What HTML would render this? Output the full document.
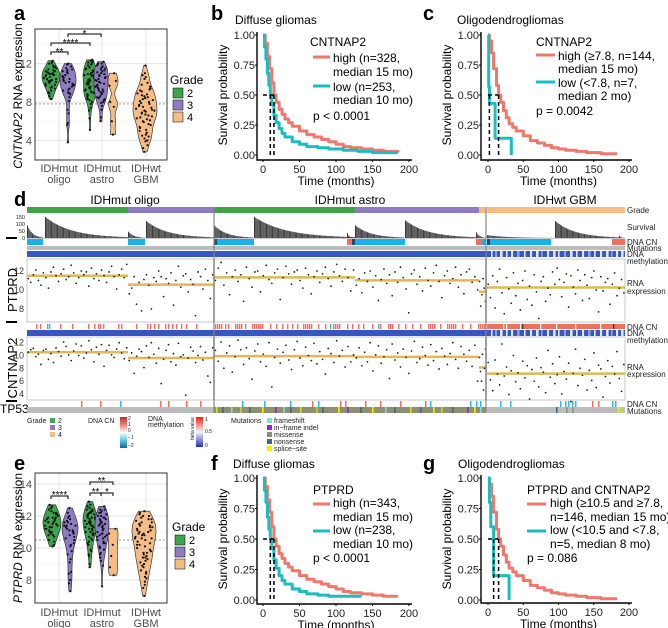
<!DOCTYPE html>
<html><head><meta charset="utf-8"><style>
body{margin:0;background:#fff;}
svg{display:block;font-family:"Liberation Sans",sans-serif;}
.pl{font-weight:bold;font-size:20px;}
.tk{font-size:11px;fill:#4d4d4d;}
.tkb{font-size:11px;fill:#222;}
.hl{font-size:8px;fill:#222;}
.lg{font-size:7px;fill:#222;}
</style></head><body>
<svg id="fig" width="668" height="628" viewBox="0 0 668 628">
<text class="pl" x="14" y="20">a</text>
<text class="pl" x="211" y="20">b</text>
<text class="pl" x="423" y="20">c</text>
<text class="pl" x="14" y="206">d</text>
<text class="pl" x="14" y="470">e</text>
<text class="pl" x="211" y="470">f</text>
<text class="pl" x="423" y="470">g</text>

<g id="pa">
<rect x="35" y="29" width="132" height="131" fill="#fff" stroke="none"/>
<g id="pa-grid"></g>
<g id="pa-marks"></g>
<rect x="35" y="29" width="132" height="131" fill="none" stroke="#333" stroke-width="1"/>
<text transform="translate(22,96) rotate(-90)" text-anchor="middle" font-size="12"><tspan font-style="italic">CNTNAP2</tspan> RNA expression</text>
<g class="tk" text-anchor="middle">
<text x="59" y="172">IDHmut</text><text x="59" y="183">oligo</text>
<text x="102" y="172">IDHmut</text><text x="102" y="183">astro</text>
<text x="146" y="172">IDHwt</text><text x="146" y="183">GBM</text></g>
<g stroke="#000" fill="none" stroke-width="1">
<path d="M51 55V52H68V55"/><path d="M51 46V43H90V46"/><path d="M68 37V34H101V37"/></g>
<g font-size="10" text-anchor="middle">
<text x="59.5" y="55">**</text><text x="70.5" y="46">****</text><text x="84.5" y="37">*</text></g>
<g>
<text x="170" y="84" font-size="12">Grade</text>
<rect x="173" y="88" width="10" height="10" fill="#3fa34d" stroke="#000" stroke-width="0.5"/><text x="187" y="97" font-size="11">2</text>
<rect x="173" y="100" width="10" height="10" fill="#8e7cc3" stroke="#000" stroke-width="0.5"/><text x="187" y="109" font-size="11">3</text>
<rect x="173" y="112" width="10" height="10" fill="#f5bd85" stroke="#000" stroke-width="0.5"/><text x="187" y="121" font-size="11">4</text></g>
</g>

<g id="pe">
<g id="pe-grid"></g>
<g id="pe-marks"></g>
<rect x="35" y="473" width="132" height="130" fill="none" stroke="#333" stroke-width="1"/>
<text transform="translate(22,538) rotate(-90)" text-anchor="middle" font-size="12"><tspan font-style="italic">PTPRD</tspan> RNA expression</text>
<g class="tk" text-anchor="middle">
<text x="59" y="616">IDHmut</text><text x="59" y="627">oligo</text>
<text x="102" y="616">IDHmut</text><text x="102" y="627">astro</text>
<text x="146" y="616">IDHwt</text><text x="146" y="627">GBM</text></g>
<g stroke="#000" fill="none" stroke-width="1">
<path d="M51 499V496H68V499"/><path d="M90 485V482H113V485"/><path d="M90 496V493H101V496"/><path d="M101 496V493H113V496"/></g>
<g font-size="10" text-anchor="middle">
<text x="59.5" y="498">****</text><text x="101.5" y="484">**</text><text x="95.5" y="495">**</text><text x="107" y="495">*</text></g>
<g>
<text x="172" y="531" font-size="12">Grade</text>
<rect x="175" y="535" width="10" height="10" fill="#3fa34d" stroke="#000" stroke-width="0.5"/><text x="189" y="544" font-size="11">2</text>
<rect x="175" y="547" width="10" height="10" fill="#8e7cc3" stroke="#000" stroke-width="0.5"/><text x="189" y="556" font-size="11">3</text>
<rect x="175" y="559" width="10" height="10" fill="#f5bd85" stroke="#000" stroke-width="0.5"/><text x="189" y="568" font-size="11">4</text></g>
</g>

<g id="pb">
<text x="235" y="24" font-size="12">Diffuse gliomas</text>
<text x="310" y="46" font-size="12">CNTNAP2</text>
<line x1="313" y1="57" x2="330" y2="57" stroke="#f0776b" stroke-width="3"/>
<line x1="313" y1="86" x2="330" y2="86" stroke="#1cbdbf" stroke-width="3"/>
<g font-size="12"><text x="333" y="62">high (n=328,</text><text x="333" y="76">median 15 mo)</text><text x="333" y="91">low (n=253,</text><text x="333" y="104">median 10 mo)</text><text x="313" y="120">p &lt; 0.0001</text></g>
</g>
<g id="pc">
<text x="457" y="24" font-size="12">Oligodendrogliomas</text>
<text x="536" y="46" font-size="12">CNTNAP2</text>
<line x1="536" y1="55" x2="555" y2="55" stroke="#f0776b" stroke-width="3"/>
<line x1="536" y1="82" x2="555" y2="82" stroke="#1cbdbf" stroke-width="3"/>
<g font-size="12"><text x="558" y="60">high (≥7.8, n=144,</text><text x="558" y="73">median 15 mo)</text><text x="558" y="87">low (&lt;7.8, n=7,</text><text x="558" y="100">median 2 mo)</text><text x="536" y="115">p = 0.0042</text></g>
</g>
<g id="pf">
<text x="233" y="468" font-size="12">Diffuse gliomas</text>
<text x="313" y="494" font-size="12">PTPRD</text>
<line x1="313" y1="504" x2="330" y2="504" stroke="#f0776b" stroke-width="3"/>
<line x1="313" y1="531" x2="330" y2="531" stroke="#1cbdbf" stroke-width="3"/>
<g font-size="12"><text x="333" y="507">high (n=343,</text><text x="333" y="521">median 15 mo)</text><text x="333" y="534">low (n=238,</text><text x="333" y="548">median 10 mo)</text><text x="313" y="562">p &lt; 0.0001</text></g>
</g>
<g id="pg">
<text x="458" y="468" font-size="12">Oligodendrogliomas</text>
<text x="527" y="494" font-size="12">PTPRD and CNTNAP2</text>
<line x1="527" y1="504" x2="546" y2="504" stroke="#f0776b" stroke-width="3"/>
<line x1="527" y1="531" x2="546" y2="531" stroke="#1cbdbf" stroke-width="3"/>
<g font-size="12"><text x="550" y="507">high (≥10.5 and ≥7.8,</text><text x="550" y="521">n=146, median 15 mo)</text><text x="550" y="534">low (&lt;10.5 and &lt;7.8,</text><text x="550" y="548">n=5, median 8 mo)</text><text x="527" y="562">p = 0.086</text></g>
</g>

<g id="pd">
<g font-size="12" text-anchor="middle">
<text x="125" y="204">IDHmut oligo</text><text x="350" y="204">IDHmut astro</text><text x="565" y="204">IDHwt GBM</text></g>
<g class="hl">
<text x="627" y="213">Grade</text><text x="627" y="230">Survival</text><text x="627" y="245">DNA CN</text><text x="627" y="251">Mutations</text>
<text x="627" y="257">DNA</text><text x="627" y="264">methylation</text><text x="627" y="286">RNA</text><text x="627" y="294">expression</text>
<text x="627" y="330">DNA CN</text><text x="627" y="336">DNA</text><text x="627" y="343">methylation</text><text x="627" y="370">RNA</text><text x="627" y="377">expression</text>
<text x="627" y="407">DNA CN</text><text x="627" y="414">Mutations</text></g>
<text transform="translate(17,290) rotate(-90)" text-anchor="middle" font-size="13">PTPRD</text>
<text transform="translate(17,368) rotate(-90)" text-anchor="middle" font-size="13">CNTNAP2</text>
<text x="0" y="413" font-size="12">TP53</text>
<g fill="#000"><rect x="6" y="237" width="11" height="2"/><rect x="6" y="321" width="11" height="2"/><rect x="6" y="400" width="11" height="2"/></g>
<g id="pd-rows"></g>
<g>
<text class="lg" x="27" y="423">Grade</text>
<rect x="50" y="418" width="5" height="5" fill="#3fa34d"/><text class="lg" x="58" y="423">2</text>
<rect x="50" y="425" width="5" height="5" fill="#8e7cc3"/><text class="lg" x="58" y="430">3</text>
<rect x="50" y="432" width="5" height="5" fill="#f5bd85"/><text class="lg" x="58" y="437">4</text>
<text class="lg" x="88" y="423">DNA CN</text>
<defs><linearGradient id="cn" x1="0" y1="0" x2="0" y2="1"><stop offset="0" stop-color="#a8352a"/><stop offset="0.25" stop-color="#f08070"/><stop offset="0.5" stop-color="#fff"/><stop offset="0.75" stop-color="#5ac8e8"/><stop offset="1" stop-color="#0a6a90"/></linearGradient>
<linearGradient id="me" x1="0" y1="0" x2="0" y2="1"><stop offset="0" stop-color="#f02010"/><stop offset="0.5" stop-color="#f4f0f8"/><stop offset="1" stop-color="#2030c0"/></linearGradient></defs>
<rect x="120" y="417" width="7" height="31" fill="url(#cn)"/>
<g font-size="5" fill="#222"><text x="128" y="420">2</text><text x="128" y="426">1</text><text x="128" y="432">0</text><text x="128" y="439">−1</text><text x="128" y="447">−2</text></g>
<text class="lg" x="148" y="421">DNA</text><text class="lg" x="148" y="427">methylation</text>
<text transform="translate(194,440) rotate(-90)" font-size="5" fill="#222">beta value</text>
<rect x="196" y="417" width="7" height="30" fill="url(#me)"/>
<g font-size="5" fill="#222"><text x="205" y="421">1</text><text x="205" y="433">0.5</text><text x="205" y="447">0</text></g>
<text class="lg" x="231" y="423">Mutations</text>
<rect x="267" y="418" width="5" height="5" fill="#7fe3d2"/><text class="lg" x="274" y="423">frameshift</text>
<rect x="267" y="425" width="5" height="5" fill="#9424d0"/><text class="lg" x="274" y="430">in−frame indel</text>
<rect x="267" y="432" width="5" height="5" fill="#8c8a78"/><text class="lg" x="274" y="437">missense</text>
<rect x="267" y="439" width="5" height="5" fill="#49677e"/><text class="lg" x="274" y="444">nonsense</text>
<rect x="267" y="446" width="5" height="5" fill="#f4f000"/><text class="lg" x="274" y="451">splice−site</text>
</g>
</g>
</svg>
<script>
const groupNames = ['oligoG2','oligoG3','astroG2','astroG3','astroG4','GBM'];
const groupGrade = [2,3,2,3,4,4];
const ptprdOligoG2=[11.2,10.8,11.6,12.1,11.0,10.5,11.8,11.3,10.2,11.9,12.4,11.5,10.9,11.7,12.2,11.1,11.4,12.6,11.8,10.7,11.3,12.0,11.6,11.9,10.4,12.3,11.2,11.7,11.0,12.1,11.5,10.8,11.9,12.5,11.4,10.1,11.6,12.2,11.3,12.7];
const ptprdOligoG3=[9.6,10.2,11.4,8.5,10.8,7.8,11.1,11.6,10.5,8.0,11.3,10.9,12.0,11.4,9.3,11.2,10.7,11.8,8.4,11.0,12.5,10.3,11.5,11.7,9.8,11.1,10.6,7.3,11.9,11.4,10.1,12.2,11.0,9.1,11.6];
const ptprdAstroG2=[11.0,12.3,12.9,10.5,11.8,9.5,11.4,12.1,10.9,11.6,8.8,12.4,11.2,10.3,11.9,12.0,9.8,11.5,12.6,11.1,10.7,11.8,12.2,9.0,11.3,12.5,11.7,10.6,11.9,12.1,11.0,10.2,12.3,11.6,9.6,11.4,12.0,10.8,11.7,12.4,11.2,10.4,11.9,12.7,11.5,10.9,12.2,11.3,9.9,12.1];
const ptprdAstroG3=[10.5,11.2,9.7,11.8,10.9,12.0,10.3,11.5,8.9,11.1,12.2,10.7,11.6,9.4,11.9,10.8,12.4,11.3,10.1,7.6,11.7,12.1,10.6,11.4,9.9,12.3,11.0,10.4,11.8,12.6,10.9,9.2,11.5,12.0,10.7,11.2,12.4,10.3,11.6,9.6,11.9,12.2,10.8,11.4,10.0];
const ptprdAstroG4=[10.9,8.3,9.5,11.2,10.2,8.8];
const ptprdGBM=[10.6,9.2,11.5,8.1,10.9,12.2,9.7,7.5,11.3,10.1,8.6,11.8,9.4,10.7,7.9,11.0,12.0,9.0,10.4,8.4,11.6,9.8,7.0,10.9,11.4,8.8,10.2,9.5,11.9,10.6,12.3,11.1,9.3,10.8,11.7,8.2,11.5,10.3,9.6,12.1,11.0,8.9,11.6,10.5,9.1,11.3,12.0,10.0,7.7,11.4,9.9,10.8,11.2,8.5,10.6,11.8,9.4,10.2,11.1,9.7];
const cntOligoG2=[10.5,10.9,11.1,9.8,10.2,8.6,10.8,11.0,9.4,10.3,8.9,11.2,10.6,9.9,12.1,11.4,10.1,9.2,10.7,11.8,10.0,11.5,9.6,10.4,12.3,10.9,9.0,11.3,10.2,11.7,8.3,10.8,11.6,10.1,9.7,11.0,12.0,10.4,9.5,11.2];
const cntOligoG3=[9.2,10.4,7.2,9.9,11.0,10.6,8.1,11.5,9.7,12.0,10.2,8.8,11.1,5.6,9.4,10.8,11.7,9.0,10.3,8.5,11.9,9.8,10.1,3.8,9.6,11.3,10.7,8.9,10.0,11.4,9.3,10.5,6.8,5.8,11.2];
const cntAstroG2=[10.8,9.1,12.1,8.0,10.4,11.5,7.4,9.8,12.4,10.9,8.6,11.2,9.5,6.3,10.7,11.8,9.0,10.2,8.3,12.0,5.1,9.7,11.0,8.8,10.5,11.6,9.3,7.8,10.9,12.2,9.6,8.4,11.3,10.0,9.2,11.9,8.7,10.6,9.4,7.1,11.1,10.3,8.9,12.3,9.9,10.8,8.2,11.4,9.0,10.1];
const cntAstroG3=[9.6,11.2,8.4,10.5,9.0,12.0,7.6,10.1,11.5,8.8,9.8,10.9,6.4,11.8,9.3,10.4,8.2,11.0,9.7,7.2,10.7,12.2,8.9,9.5,11.3,10.0,8.5,11.7,9.2,10.6,7.9,11.1,9.9,8.6,10.3,12.0,9.4,8.0,11.4,10.2,9.1,10.8,8.3,11.6,6.0];
const cntAstroG4=[9.7,7.5,6.0,10.2,4.6,8.0,11.0];
const cntGBM=[8.9,6.2,4.5,9.3,7.1,5.4,11.8,6.8,8.2,3.9,7.6,10.0,5.9,7.3,4.8,9.1,6.5,8.4,3.2,7.8,6.0,9.6,5.1,8.1,7.4,4.2,10.8,6.6,8.7,5.6,7.0,9.8,4.0,7.5,6.3,8.8,2.8,7.2,11.0,5.3,8.0,6.9,9.4,4.6,7.7,6.1,10.4,5.0,8.5,7.9,3.5,6.7,9.2,5.7,8.3,7.1,10.6,6.4,4.4,8.6];
const ptprdGroups=[ptprdOligoG2,ptprdOligoG3,ptprdAstroG2,ptprdAstroG3,ptprdAstroG4,ptprdGBM];
const cntGroups=[cntOligoG2,cntOligoG3,cntAstroG2,cntAstroG3,cntAstroG4,cntGBM];

const kmTimeBHigh=[0,3,6,9,12,15,18,22,26,30,35,40,50,60,70,80,90,100,110,120,135,150,165,185];
const kmSurvBHigh=[1,0.93,0.82,0.72,0.6,0.5,0.44,0.38,0.34,0.3,0.27,0.24,0.2,0.17,0.15,0.13,0.11,0.09,0.07,0.06,0.05,0.04,0.03,0.02];
const kmTimeBLow=[0,2,4,6,8,10,12,15,18,22,26,30,40,50,60,75,90,110,130,150,185];
const kmSurvBLow=[1,0.9,0.8,0.68,0.58,0.5,0.42,0.33,0.27,0.22,0.18,0.15,0.11,0.09,0.07,0.06,0.05,0.04,0.03,0.02,0.02];
const kmTimeCHigh=[0,2,5,8,12,15,18,22,26,30,35,40,50,60,70,80,90,100,110,125,140,160,183];
const kmSurvCHigh=[1,0.95,0.85,0.72,0.58,0.5,0.44,0.37,0.31,0.26,0.23,0.2,0.16,0.12,0.1,0.08,0.06,0.05,0.04,0.03,0.02,0.01,0.01];
const kmTimeCLow=[0,1,2,10,33];
const kmSurvCLow=[1,0.57,0.43,0.14,0];
const kmTimeFHigh=[0,3,6,9,12,15,18,22,26,30,35,40,50,60,70,80,90,100,110,120,135,150,165,183];
const kmSurvFHigh=[1,0.93,0.82,0.72,0.6,0.5,0.44,0.38,0.34,0.3,0.27,0.24,0.2,0.17,0.15,0.13,0.11,0.09,0.07,0.06,0.05,0.04,0.03,0.02];
const kmTimeFLow=[0,2,4,6,8,10,12,15,18,22,26,30,40,50,60,75,90,110,135];
const kmSurvFLow=[1,0.9,0.8,0.68,0.58,0.5,0.42,0.33,0.26,0.2,0.16,0.13,0.09,0.07,0.05,0.04,0.03,0.03,0.03];
const kmTimeGHigh=[0,2,5,8,12,15,18,22,26,30,35,40,50,60,70,80,90,100,110,125,140,160,183];
const kmSurvGHigh=[1,0.95,0.85,0.72,0.58,0.5,0.44,0.37,0.31,0.26,0.23,0.2,0.16,0.12,0.1,0.08,0.06,0.05,0.04,0.03,0.02,0.01,0.01];
const kmTimeGLow=[0,2,4,8,30];
const kmSurvGLow=[1,0.8,0.6,0.2,0];
const mediansB=[15,10], mediansC=[15,2], mediansF=[15,10], mediansG=[15,8];
const kmXTicks=[0,50,100,150,200];
const kmYTicks=[0,0.25,0.5,0.75,1];
const kmYTickLabels=['0.00','0.25','0.50','0.75','1.00'];
const aYTicks=[4,8,12];
const eYTicks=[8,10,12,14];
const survTicks=[0,50,100,150];

const NS='http://www.w3.org/2000/svg';
const svg=document.getElementById('fig');
function mk(tag,a,parent){const e=document.createElementNS(NS,tag);for(const k in a)e.setAttribute(k,a[k]);(parent||svg).appendChild(e);return e;}
const gradeColor={2:'#3fa34d',3:'#8e7cc3',4:'#f5bd85'};
const RED='#f0776b', TEAL='#1cbdbf';

function violinPanel(gridId,marksId,groups,yScale,yTicks,minor,dash,xMin,xMax,yTop,yBot,xPos,halfW){
  const grid=document.getElementById(gridId), marks=document.getElementById(marksId);
  minor.forEach(v=>{const l=mk('line',{x1:xMin,x2:xMax,y1:yScale(v),y2:yScale(v),stroke:'#f0f0f0','stroke-width':0.6},grid);
    
    });
  yTicks.forEach(v=>{const l=mk('line',{x1:xMin,x2:xMax,y1:yScale(v),y2:yScale(v),stroke:'#e3e3e3','stroke-width':1},grid);
    
    
    const t=mk('text',{x:xMin-3,y:yScale(v)+4,'text-anchor':'end','class':'tk'},grid);t.textContent=v;
    
    });
  [59,102,146].forEach(x=>{const l=mk('line',{x1:x,x2:x,y1:yTop,y2:yBot,stroke:'#e3e3e3','stroke-width':1},grid);
    
    });
  const d=mk('line',{x1:xMin,x2:xMax,y1:yScale(dash),y2:yScale(dash),stroke:'#999','stroke-dasharray':'2,2','stroke-width':1},grid);
  
  
  groups.forEach((vals,gi)=>{
    const mn=Math.min(...vals), mx=Math.max(...vals), bw=0.55;
    const N=40, dens=[];
    for(let i=0;i<=N;i++){const y=mn+(mx-mn)*i/N;let s=0;vals.forEach(v=>{s+=Math.exp(-0.5*((y-v)/bw)**2);});dens.push([y,s]);}
    const dm=Math.max(...dens.map(p=>p[1]));
    let L=[],R=[];
    dens.forEach(([y,s])=>{const w=halfW[gi]*s/dm;L.push((xPos[gi]-w).toFixed(1)+','+yScale(y).toFixed(1));R.unshift((xPos[gi]+w).toFixed(1)+','+yScale(y).toFixed(1));});
    const p=mk('polygon',{points:L.concat(R).join(' '),fill:gradeColor[groupGrade[gi]],stroke:'#222','stroke-width':0.6},marks);
    
    
    vals.forEach((v,i)=>{
      let s=0;vals.forEach(u=>{s+=Math.exp(-0.5*((v-u)/bw)**2);});
      const w=halfW[gi]*s/dm*0.8;
      const j=((i*0.61803)%1)*2-1;
      const c=mk('circle',{cx:xPos[gi]+j*w,cy:yScale(v),r:1.1,fill:'#111'},marks);
      
      
    });
  });
}
violinPanel('pa-grid','pa-marks',cntGroups,v=>102-(v-8)*9.6,aYTicks,[6,10,14],7.8,35,167,29,160,[51,68,90,101,113,145],[9,8,7,7,5,12]);
violinPanel('pe-grid','pe-marks',ptprdGroups,v=>548-(v-10)*16,eYTicks,[9,11,13],10.5,35,167,473,603,[52,70,90,102,113,144],[9,8,7,7,5,12]);

function kmPanel(parentId,x0,pxPerMonth,y0,y1,axX,axY,curves,meds){
  const par=document.getElementById(parentId);
  const X=t=>x0+t*pxPerMonth, Y=s=>y0-(y0-y1)*s;
  const ax=mk('path',{d:`M${axX} ${Y(1)-3}V${axY}H${X(200)+3}`,fill:'none',stroke:'#000','stroke-width':1.4},par);
  
  
  kmYTicks.forEach((v,i)=>{const t=mk('text',{x:axX-2,y:Y(v)+4,'text-anchor':'end','class':'tkb'},par);t.textContent=kmYTickLabels[i];
    
    
    const l=mk('line',{x1:axX-2,x2:axX,y1:Y(v),y2:Y(v),stroke:'#000'},par);
    
    });
  kmXTicks.forEach(v=>{const t=mk('text',{x:X(v),y:axY+13,'text-anchor':'middle','class':'tkb','font-size':12},par);t.textContent=v;
    
    
    const l=mk('line',{x1:X(v),x2:X(v),y1:axY,y2:axY+2,stroke:'#000'},par);
    
    });
  const xt=mk('text',{x:X(100),y:axY+25,'text-anchor':'middle','font-size':12},par);xt.textContent='Time (months)';
  
  
  const yt=mk('text',{transform:`translate(${axX-30},${(Y(0)+Y(1))/2}) rotate(-90)`,'text-anchor':'middle','font-size':12},par);yt.textContent='Survival probability';
  
  
  curves.forEach(([ts,ss,col,name])=>{
    let d=`M${X(ts[0])} ${Y(ss[0])}`;
    for(let i=1;i<ts.length;i++){d+=`H${X(ts[i]).toFixed(1)}V${Y(ss[i]).toFixed(1)}`;}
    const p=mk('path',{d,fill:'none',stroke:col,'stroke-width':3,'stroke-linejoin':'round'},par);
    
    
  });
  const mx=Math.max(...meds);
  const h=mk('line',{x1:X(0),x2:X(mx),y1:Y(0.5),y2:Y(0.5),stroke:'#000','stroke-width':1.5,'stroke-dasharray':'4,3'},par);
  
  
  meds.forEach(m=>{const v=mk('line',{x1:X(m),x2:X(m),y1:Y(0.5),y2:Y(0),stroke:'#000','stroke-width':1.5,'stroke-dasharray':'4,3'},par);
    
    });
}
kmPanel('pb',263,0.73,155,35,257,160,[[kmTimeBHigh,kmSurvBHigh,RED,'km-high-curve'],[kmTimeBLow,kmSurvBLow,TEAL,'km-low-curve']],mediansB);
kmPanel('pc',488,0.705,155,35,481,160,[[kmTimeCHigh,kmSurvCHigh,RED,'km-high-curve'],[kmTimeCLow,kmSurvCLow,TEAL,'km-low-curve']],mediansC);
kmPanel('pf',263,0.73,600,478,257,604,[[kmTimeFHigh,kmSurvFHigh,RED,'km-high-curve'],[kmTimeFLow,kmSurvFLow,TEAL,'km-low-curve']],mediansF);
kmPanel('pg',488,0.705,600,478,481,603,[[kmTimeGHigh,kmSurvGHigh,RED,'km-high-curve'],[kmTimeGLow,kmSurvGLow,TEAL,'km-low-curve']],mediansG);

const rows=document.getElementById('pd-rows');
const groupX0=[27,128,214,355,479,487], groupX1=[128,214,355,479,486,625];
function rect(x,y,w,h,fill,name){const r=mk('rect',{x,y,width:w,height:h,fill},rows);
  
  return r;}
groupNames.forEach((g,i)=>rect(groupX0[i],207,groupX1[i]-groupX0[i],6,gradeColor[groupGrade[i]],'grade-'+g));
const survBlockX0=[27,45,128,146,214,254,347,355,405,476,487,555,619];
const survBlockX1=[43,128,145,214,253,355,353,404,478,486,554,619,625];
const survBlockStart=[90,150,45,120,90,150,35,90,125,40,20,120,15];
survBlockX0.forEach((x0,i)=>{const x1=survBlockX1[i];const n=Math.max(2,Math.round((x1-x0)/1.2));
  for(let k=0;k<n;k++){const m=survBlockStart[i]*Math.exp(-3.2*k/n);const h=m*0.14;
    rect(x0+k*(x1-x0)/n,238-h,(x1-x0)/n*0.85,h,'#3a3a3a','survival-bar');}});
const sax=mk('line',{x1:27,x2:625,y1:238.5,y2:238.5,stroke:'#999','stroke-width':0.6},rows);


survTicks.forEach(v=>{const t=mk('text',{x:25,y:238-v*0.14+2,'text-anchor':'end','font-size':5.5,fill:'#222'},rows);t.textContent=v;
  
  });
rect(27,239,598,6,'#ffffff','ptprd-cn-bg');
const ptprdCnX0=[27,128,214,217,347,352,355,476,482,487,490,612];
const ptprdCnX1=[43,145,217,254,352,355,405,482,486,490,551,625];
const ptprdCnCol=['#1ab0e8','#1ab0e8','#14557a','#1ab0e8','#f07060','#1a4a70','#1ab0e8','#f07060','#1ab0e8','#14557a','#1ab0e8','#f07060'];
ptprdCnX0.forEach((x,i)=>rect(x,239,ptprdCnX1[i]-x,6,ptprdCnCol[i],'ptprd-cn-segment'));
rect(27,246,598,4,'#bcbcbc','ptprd-mutations-row');
const gbmMethStripes=[491,495,500,506,511,517,524,530,536,541,547,553,558,564,570,576,582,588,594,600,606,611,616,621];
function methRow(y,name){rect(27,y,598,6,'#3656c2',name);
  gbmMethStripes.forEach((x,i)=>rect(x,y,1.6+(i%3)*0.5,6,i%4===1?'#8fa0e0':'#e4e4f4','methylation-stripe'));}
methRow(251,'ptprd-methylation-row');
methRow(330,'cntnap2-methylation-row');
function scatterPanel(groups,y0,y1,yScale,ticks,name){
  const bg=mk('rect',{x:27,y:y0,width:598,height:y1-y0,fill:'#fff',stroke:'#bbb','stroke-width':0.8},rows);
  
  
  ticks.forEach(v=>{const t=mk('text',{x:24,y:yScale(v)+3,'text-anchor':'end','font-size':9,fill:'#333'},rows);t.textContent=v;
    
    });
  groups.forEach((vals,gi)=>{
    const x0=groupX0[gi],x1=groupX1[gi];
    const mean=vals.reduce((a,b)=>a+b,0)/vals.length;
    const ml=mk('line',{x1:x0,x2:x1,y1:yScale(mean),y2:yScale(mean),stroke:'#d9ac3a','stroke-width':2.5,'stroke-opacity':0.85},rows);
    
    
    vals.forEach((v,i)=>{const c=mk('circle',{cx:x0+(i+0.5)*(x1-x0)/vals.length,cy:yScale(v),r:0.9,fill:'#222'},rows);
      
      });
  });
  [214,486].forEach(x=>{const l=mk('line',{x1:x,x2:x,y1:y0,y2:y1,stroke:'#888','stroke-width':1.5},rows);
    
    });
}
scatterPanel(ptprdGroups,259,322,v=>290-(v-10)*9.5,[8,10,12],'ptprd-expression');
rect(27,324,598,5,'#ffffff','cntnap2-cn-bg');
const cntCnRed=[36,40,60,72,88,94,98,100,103,118,121,136,147,150,154,158,165,168,172,176,181,186,196,215,217,219,221,225,228,235,237,239,241,245,252,254,256,258,260,262,270,276,282,287,292,297,303,305,307,309,311,318,325,333,335,337,339,347,352,358,363,372,380,388,390,392,398,405,412,420,428,430,432,434,440,447,449,451,453,455,462,470,478,480,482,484];
cntCnRed.forEach(x=>rect(x,324,1.4,5,'#f07060','cntnap2-cn-gain'));
[47,49,330,378].forEach(x=>rect(x,324,1.4,5,'#4ab0d8','cntnap2-cn-loss'));
rect(487,324,138,5,'#f07060','cntnap2-cn-gbm');
[503,506,520,540,556,575,600].forEach(x=>rect(x,324,1.2,5,'#ffffff','cntnap2-cn-gap'));
[522,613].forEach(x=>rect(x,324,1.4,5,'#6a2a20','cntnap2-cn-amp'));
scatterPanel(cntGroups,337,400,v=>355.5-(v-10)*6.4,[4,6,8,10,12],'cntnap2-expression');
const tp53Red=[81,100,160,168,186,200,312,340,345,365,380,400,425,592,598];
const tp53Blue=[120,242,264,290,318,430,470,476,480,500,510,560,565,568,572,575,612,615];
tp53Red.forEach(x=>rect(x,401,1.5,6,'#f07060','tp53-cn-gain'));
tp53Blue.forEach(x=>rect(x,401,1.5,6,'#30b8e8','tp53-cn-loss'));
rect(27,407,598,6,'#bcbcbc','tp53-mutation-row');
rect(214,407,272,6,'#8f8f74','tp53-missense-block');
const tp53MutX=[216,222,231,240,249,262,275,283,290,300,316,322,338,347,360,372,385,394,410,420,433,441,452,467,474,480,556,566,572,618,621];
const tp53MutCol=['#d8e020','#49677e','#7fe3d2','#c0d040','#49677e','#f4f000','#9424d0','#7fe3d2','#49677e','#d8e020','#c0d040','#49677e','#f4f000','#9424d0','#49677e','#f4f000','#7fe3d2','#49677e','#d8e020','#49677e','#f4f000','#c0d040','#49677e','#9424d0','#f4f000','#7fe3d2','#49677e','#8f8f74','#8f8f74','#f4f000','#d8e020'];
tp53MutX.forEach((x,i)=>rect(x,407,1.6,6,tp53MutCol[i],'tp53-mutation'));
[214,486].forEach(x=>{const l=mk('line',{x1:x,x2:x,y1:207,y2:413,stroke:'#888','stroke-width':1.2},rows);
  
  });
</script>
</body></html>
